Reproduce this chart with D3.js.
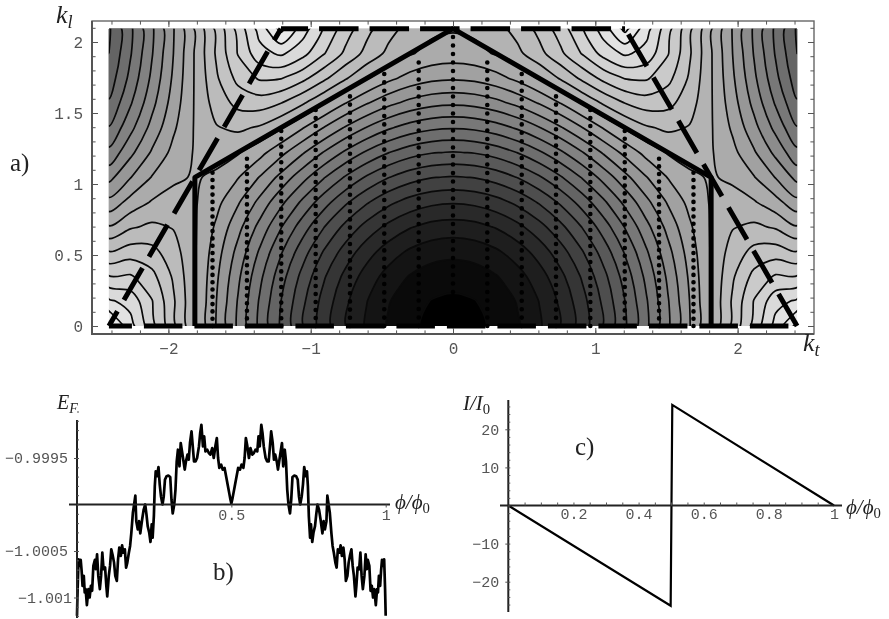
<!DOCTYPE html>
<html>
<head>
<meta charset="utf-8">
<script src="https://cdn.jsdelivr.net/npm/d3@7/dist/d3.min.js"></script>
<style>
  html, body { margin: 0; padding: 0; background: #fff; }
  svg { display: block; filter: blur(0.45px); }
  .tick text { font-family: "Liberation Mono", monospace; fill: #555; }
  .lbl { font-family: "Liberation Serif", serif; fill: #222; }
</style>
</head>
<body>
<svg class="chart" width="889" height="619"></svg>
<script>
// a) energy read at grid nodes, right half only, bottom row first (the panel is mirror symmetric)
var ktMax = 2.418, klMax = 2.094;
var energy = [
  [3,2.983,2.932,2.848,2.732,2.587,2.414,2.218,2,1.765,1.518,1.261,1,.739,.482,.235,0],
  [2.977,2.96,2.909,2.826,2.71,2.566,2.394,2.199,1.983,1.751,1.506,1.254,1,.751,.518,.327,.261],
  [2.909,2.893,2.842,2.76,2.646,2.503,2.334,2.143,1.932,1.706,1.471,1.233,1,.785,.61,.51,.518],
  [2.798,2.781,2.732,2.651,2.54,2.4,2.236,2.05,1.848,1.633,1.414,1.199,1,.836,.732,.71,.765],
  [2.646,2.63,2.581,2.502,2.394,2.259,2.101,1.924,1.732,1.533,1.336,1.153,1,.898,.866,.906,1],
  [2.457,2.441,2.394,2.318,2.213,2.083,1.932,1.764,1.587,1.408,1.239,1.097,1,.966,1,1.09,1.217],
  [2.236,2.221,2.175,2.101,2,1.876,1.732,1.575,1.414,1.259,1.126,1.033,1,1.033,1.126,1.259,1.414],
  [1.991,1.976,1.932,1.859,1.762,1.642,1.506,1.361,1.217,1.09,1,.966,1,1.097,1.239,1.408,1.587],
  [1.732,1.717,1.673,1.602,1.506,1.39,1.259,1.124,1,.906,.866,.898,1,1.153,1.336,1.533,1.732],
  [1.474,1.459,1.414,1.342,1.245,1.129,1,.872,.765,.71,.732,.836,1,1.199,1.414,1.633,1.848],
  [1.239,1.224,1.177,1.101,1,.877,.742,.611,.518,.51,.61,.785,1,1.233,1.471,1.706,1.932],
  [1.066,1.049,1,.919,.809,.673,.518,.361,.261,.327,.518,.751,1,1.254,1.506,1.751,1.983],
  [1,.983,.932,.848,.732,.587,.414,.218,0,.235,.482,.739,1,1.261,1.518,1.765,2]
];
var levels = [.039,.16,.282,.404,.525,.647,.768,.89,1.011,1.133,1.254,1.376,1.497,1.619,1.74,1.862,1.983,2.105,2.226,2.348,2.469,2.59,2.712,2.834,2.955];

// thick outline, dashed zone boundary and the dotted allowed lines
var hexKt = [-1.814, -1.814, 0, 1.814, 1.814];
var hexKl = [0, 1.047, 2.094, 1.047, 0];
var dotKt = [-1.69,-1.448,-1.207,-.965,-.724,-.483,-.241,0,.241,.483,.724,.965,1.207,1.448,1.69];
var dotTop = [1.08,1.22,1.39,1.53,1.64,1.8,1.9,2.09,1.9,1.8,1.64,1.53,1.39,1.22,1.08];
var dotGap = [7.3,7.6,7.8,8,8.2,8.4,8.5,8.5,8.5,8.4,8.2,8,7.8,7.6,7.3];

// b) left half of the curve, the right half is its mirror image
var phiB = [0,.002,.005,.009,.012,.015,.018,.022,.025,.028,.032,.037,.041,.045,.049,.053,.058,.061,.065,.069,.074,.078,.082,.086,.091,.095,.098,.103,.107,.111,.116,.12,.124,.129,.133,.137,.142,.146,.15,.155,.159,.163,.168,.172,.176,.181,.185,.189,.192,.197,.201,.205,.211,.216,.221,.225,.229,.234,.238,.242,.245,.249,.252,.255,.259,.264,.268,.272,.277,.281,.285,.29,.296,.302,.306,.31,.315,.319,.323,.327,.332,.336,.341,.345,.349,.353,.358,.362,.366,.371,.375,.379,.384,.389,.395,.399,.403,.408,.412,.416,.422,.427,.432,.438,.443,.449,.453,.457,.461,.467,.472,.478,.483,.489,.493,.497,.5];
var eB = [-1.196,-.91,-.589,-.66,-.596,-.714,-.875,-.768,-.946,-.91,-1.082,-.91,-1,-.875,-.928,-.66,-.596,-.696,-.535,-.768,-.91,-.768,-.518,-.696,-.678,-.875,-.989,-.768,-.66,-.482,-.553,-.625,-.768,-.821,-.589,-.464,-.553,-.439,-.518,-.482,-.678,-.625,-.518,-.446,-.304,-.089,0,.096,-.179,-.268,-.179,-.311,-.161,-.054,0,-.107,-.232,-.304,-.403,-.214,-.357,-.125,.196,.357,.304,.403,.214,.089,0,.089,.268,.304,.311,.296,.054,-.096,0,.161,.464,.589,.411,.661,.554,.464,.375,.464,.536,.482,.661,.786,.625,.464,.464,.5,.625,.768,.857,.625,.732,.571,.589,.554,.536,.607,.5,.643,.714,.5,.393,.429,.375,.393,.304,.196,.125,.054,.011];

// c) persistent current
var phiC = [0, .4985, .5035, 1];
var currentC = [0, -26.3, 26.4, 0];

var svg = d3.select(".chart");
var tickColor = "#555";
var minusFormat = function(d) { return String(d).replace("-", "\u2212"); };

// ---- panel a ----
var x = d3.scaleLinear().domain([-2.5, 2.5]).range([453 - 2.5 * 142.3, 453 + 2.5 * 142.3]);
var y = d3.scaleLinear().domain([0, 2]).range([326, 42]);

var nCols = energy[0].length * 2 - 1, nRows = energy.length;
var field = [];
energy.forEach(function(row) {
  field = field.concat(row.slice(1).reverse(), row);
});

// d3.contours puts grid node i at coordinate i + 0.5
var gridX = d3.scaleLinear().domain([0.5, nCols - 0.5]).range([x(-ktMax), x(ktMax)]);
var gridY = d3.scaleLinear().domain([0.5, nRows - 0.5]).range([y(0), y(klMax)]);
var gray = d3.scaleLinear().domain([0, 1, 2, 2.5, 2.955]).range([236, 172, 88, 38, 0]);
var shade = function(v) { var g = Math.round(gray(v)); return "rgb(" + g + "," + g + "," + g + ")"; };

svg.append("clipPath").attr("id", "plotClip").append("rect")
  .attr("x", x(-ktMax)).attr("y", y(klMax))
  .attr("width", x(ktMax) - x(-ktMax)).attr("height", y(0) - y(klMax));

var smooth = d3.line()
  .x(function(p) { return gridX(p[0]); })
  .y(function(p) { return gridY(p[1]); })
  .curve(d3.curveCatmullRomClosed.alpha(0.5));

var contourPath = function(c) {
  var d = "";
  c.coordinates.forEach(function(poly) {
    poly.forEach(function(ring) { d += smooth(ring.slice(0, -1)); });
  });
  return d;
};

var contours = d3.contours().size([nCols, nRows]).thresholds(levels)(field);
var plot = svg.append("g").attr("clip-path", "url(#plotClip)");
plot.append("rect")
  .attr("x", x(-ktMax)).attr("y", y(klMax))
  .attr("width", x(ktMax) - x(-ktMax)).attr("height", y(0) - y(klMax))
  .attr("fill", shade(0));
plot.selectAll("path.band").data(contours).enter().append("path")
  .attr("class", "band")
  .attr("d", contourPath)
  .attr("fill", function(c) { return shade(c.value); })
  .attr("fill-rule", "evenodd")
  .attr("stroke", "#0a0a0a")
  .attr("stroke-width", 1.7);

// dotted lines
svg.selectAll("line.dots").data(dotKt).enter().append("line")
  .attr("class", "dots")
  .attr("x1", function(d) { return x(d); })
  .attr("x2", function(d) { return x(d); })
  .attr("y1", y(0))
  .attr("y2", function(d, i) { return y(dotTop[i]); })
  .attr("stroke", "#000")
  .attr("stroke-width", 4.6)
  .attr("stroke-linecap", "round")
  .attr("stroke-dasharray", function(d, i) { return "0 " + dotGap[i]; });

// dashed boundary, one leg at a time
var legs = [
  {kt: [-ktMax, ktMax], kl: [0, 0], dash: "38.5 12", offset: 15.5},
  {kt: [-ktMax, -ktMax / 2], kl: [0, klMax], dash: "37 13", offset: 20},
  {kt: [ktMax, ktMax / 2], kl: [0, klMax], dash: "37 13", offset: 0},
  {kt: [-ktMax / 2, ktMax / 2], kl: [klMax, klMax], dash: "39.5 11", offset: 12.4}
];
legs.forEach(function(leg) {
  svg.append("line")
    .attr("x1", x(leg.kt[0])).attr("y1", y(leg.kl[0]))
    .attr("x2", x(leg.kt[1])).attr("y2", y(leg.kl[1]))
    .attr("stroke", "#000")
    .attr("stroke-width", 5)
    .attr("stroke-dasharray", leg.dash)
    .attr("stroke-dashoffset", leg.offset);
});

// thick hexagon
svg.append("path")
  .attr("d", d3.line().x(function(d, i) { return x(hexKt[i]); }).y(function(d, i) { return y(hexKl[i]); })(hexKt))
  .attr("fill", "none")
  .attr("stroke", "#000")
  .attr("stroke-width", 5)
  .attr("stroke-linejoin", "round");

// frame with inward ticks on all four sides
var frameL = 92, frameR = 814, frameT = 21, frameB = 334;
svg.append("rect")
  .attr("x", frameL).attr("y", frameT)
  .attr("width", frameR - frameL).attr("height", frameB - frameT)
  .attr("fill", "none").attr("stroke", "#666").attr("stroke-width", 1.4);
svg.append("path")
  .attr("d", "M" + frameL + "," + frameT + "V" + frameB + "H" + frameR)
  .attr("fill", "none").attr("stroke", "#555").attr("stroke-width", 2);

var ktTicks = [-2, -1, 0, 1, 2];
var klTicks = [0, .5, 1, 1.5, 2];
var ktMinor = d3.range(-2.4, 2.41, .2);
var klMinor = d3.range(0, 2.11, .1);
var frameAxis = function(axis, minor, major, tx, ty, size, labels) {
  var g = svg.append("g").attr("transform", "translate(" + tx + "," + ty + ")");
  g.call(axis.tickValues(minor).tickSize(size * 0.6).tickFormat(""));
  g.call(function(s) { s.select(".domain").remove(); });
  var h = svg.append("g").attr("transform", "translate(" + tx + "," + ty + ")");
  h.call(axis.tickValues(major).tickSize(size).tickPadding(labels ? 9 : 0)
    .tickFormat(labels ? minusFormat : ""));
  h.call(function(s) { s.select(".domain").remove(); });
};
frameAxis(d3.axisBottom(x), ktMinor, ktTicks, 0, frameB, -6, true);
frameAxis(d3.axisTop(x), ktMinor, ktTicks, 0, frameT, -6, false);
frameAxis(d3.axisLeft(y), klMinor, klTicks, frameL, 0, -6, true);
frameAxis(d3.axisRight(y), klMinor, klTicks, frameR, 0, -6, false);
svg.selectAll(".tick text").style("font-size", "16px");

// ---- panel b ----
var xB = d3.scaleLinear().domain([0, 1]).range([77, 385.7]);
var yB = d3.scaleLinear().domain([-1.0005, -.9995]).range([551, 458]);

var phiBAll = phiB.concat(phiB.slice(0, -1).reverse().map(function(p) { return 1 - p; }));
var eBAll = eB.concat(eB.slice(0, -1).reverse());
svg.append("path")
  .attr("d", d3.line()
    .x(function(d, i) { return xB(phiBAll[i]); })
    .y(function(d) { return yB(-1 + d / 1000); })(eBAll))
  .attr("fill", "none").attr("stroke", "#000").attr("stroke-width", 2.7).attr("stroke-linejoin", "round");

var bAxisX = svg.append("g").attr("transform", "translate(0," + yB(-1) + ")")
  .call(d3.axisBottom(xB).tickValues([.5, 1]).tickSize(3).tickPadding(2).tickFormat(d3.format("")));
bAxisX.select(".domain").attr("d", "M69,0H390").attr("stroke", "#222").attr("stroke-width", 2);
var bAxisY = svg.append("g").attr("transform", "translate(77,0)")
  .call(d3.axisLeft(yB).tickValues([-1.001, -1.0005, -.9995]).tickSize(3).tickPadding(6).tickFormat(minusFormat));
bAxisY.select(".domain").attr("d", "M0,420V618").attr("stroke", "#222").attr("stroke-width", 2);
bAxisY.selectAll(".tick text").filter(function(d) { return d === -1.001; }).attr("dx", "4");
svg.append("g").attr("transform", "translate(77,0)")
  .call(d3.axisRight(yB).tickValues(d3.range(-1.0012, -.9990, .0001)).tickSize(2).tickFormat(""))
  .select(".domain").remove();

// ---- panel c ----
var xC = d3.scaleLinear().domain([0, 1]).range([508.3, 834]);
var yC = d3.scaleLinear().domain([-20, 20]).range([581.7, 429.3]);

svg.append("path")
  .attr("d", d3.line()
    .x(function(d, i) { return xC(phiC[i]); })
    .y(function(d) { return yC(d); })(currentC))
  .attr("fill", "none").attr("stroke", "#000").attr("stroke-width", 2.2).attr("stroke-linejoin", "miter");

var cAxisX = svg.append("g").attr("transform", "translate(0," + yC(0) + ")")
  .call(d3.axisBottom(xC).tickValues([.2, .4, .6, .8, 1]).tickSize(0).tickPadding(3).tickFormat(d3.format("")));
cAxisX.select(".domain").attr("d", "M500,0H842").attr("stroke", "#222").attr("stroke-width", 2);
var cAxisY = svg.append("g").attr("transform", "translate(508.3,0)")
  .call(d3.axisLeft(yC).tickValues([-20, -10, 10, 20]).tickSize(3).tickPadding(6).tickFormat(minusFormat));
cAxisY.select(".domain").attr("d", "M0,400V612").attr("stroke", "#222").attr("stroke-width", 2);
svg.append("g").attr("transform", "translate(" + 0 + "," + yC(0) + ")")
  .call(d3.axisTop(xC).tickValues(d3.range(.05, 1, .05)).tickSize(3).tickFormat(""))
  .select(".domain").remove();
svg.append("g").attr("transform", "translate(508.3,0)")
  .call(d3.axisRight(yC).tickValues(d3.range(-26, 27, 2)).tickSize(2).tickFormat(""))
  .select(".domain").remove();

svg.selectAll(".tick line").attr("stroke", tickColor);
svg.selectAll(".tick text").filter(function() { return !this.style.fontSize; }).style("font-size", "15px");

// ---- text labels ----
var label = function(px, py, parts, size) {
  var t = svg.append("text").attr("class", "lbl").attr("x", px).attr("y", py).style("font-size", size + "px");
  parts.forEach(function(p) {
    var s = t.append("tspan").text(p.t);
    if (p.i) s.style("font-style", "italic");
    if (p.sub) s.attr("dy", "0.3em").style("font-size", (size * 0.7) + "px");
  });
};
label(56, 23, [{t: "k", i: 1}, {t: "l", i: 1, sub: 1}], 26);
label(803, 351, [{t: "k", i: 1}, {t: "t", i: 1, sub: 1}], 26);
label(10, 171, [{t: "a)"}], 25);
label(213, 580, [{t: "b)"}], 25);
label(575, 455, [{t: "c)"}], 25);
label(57, 409, [{t: "E", i: 1}, {t: "F", i: 1, sub: 1}], 20);
label(463, 410, [{t: "I/I", i: 1}, {t: "0", sub: 1}], 21);
label(395, 509, [{t: "\u03d5/\u03d5", i: 1}, {t: "0", sub: 1}], 21);
label(846, 514, [{t: "\u03d5/\u03d5", i: 1}, {t: "0", sub: 1}], 21);
</script>
</body>
</html>
